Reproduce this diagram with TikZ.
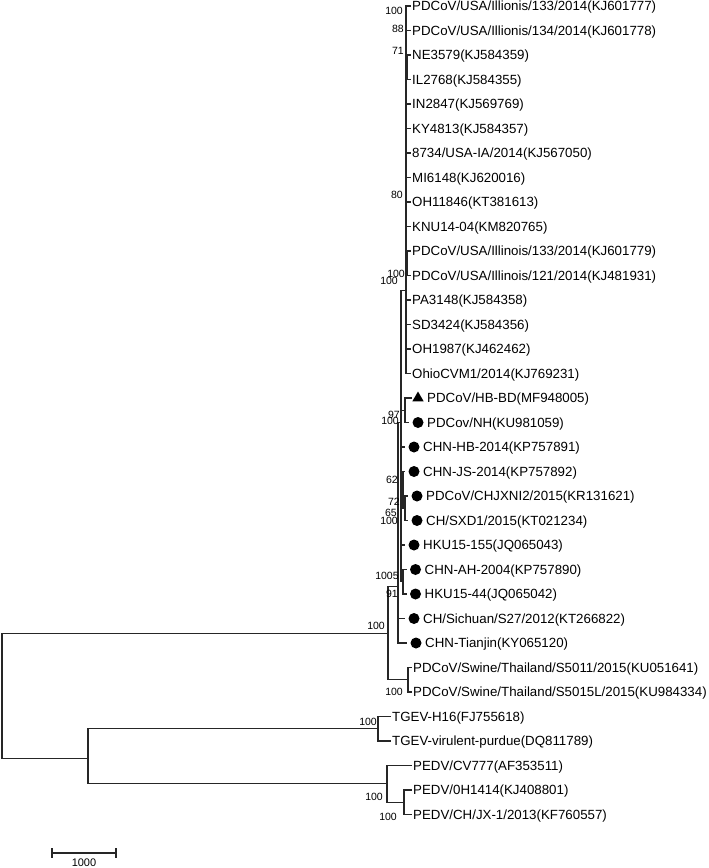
\documentclass[tikz,border=0pt]{standalone}
\usepackage{fontspec}
\setmainfont{Liberation Sans}
\usetikzlibrary{positioning,shapes.geometric}

\begin{document}
\begin{tikzpicture}[
  x=1pt, y=-24.5pt,
  branch/.style={draw=black!85, line width=1.1pt, line cap=rect},
  taxon/.style={anchor=west, inner xsep=2pt, inner ysep=0pt, text height=9.4pt, text depth=0pt,
                font=\fontsize{13.3}{15}\selectfont},
  boot/.style={anchor=east, inner sep=0pt, font=\fontsize{10.5}{12}\selectfont},
  dotmark/.style={circle, fill=black, inner sep=0pt, minimum size=11pt, outer sep=4pt},
  trimark/.style={regular polygon, regular polygon sides=3, fill=black, inner sep=0pt,
                  minimum size=13pt, outer sep=2.5pt}
]
  \path[fill=white, use as bounding box] (0,0.7551) rectangle (709,36.1837);

  % internal nodes
  \coordinate (R) at (2,29.1);
  \coordinate (A) at (388,26.6);
  \coordinate (O) at (88,31.7);
  \coordinate (T) at (378,30.5);
  \coordinate (P) at (387,32.75);
  \coordinate (PI) at (404,33.5);
  \coordinate (TH) at (408,28.5);
  \coordinate (B) at (398,24.7);
  \coordinate (C) at (401,18);
  \coordinate (US) at (406,12.6);
  \coordinate (U34) at (407.5,3.5);
  \coordinate (U1112) at (407.5,11.5);
  \coordinate (BN) at (405,17.5);
  \coordinate (JS) at (403,20.75);
  \coordinate (JX) at (405,21.5);
  \coordinate (AH) at (403,24.5);

  % taxa
  \node[taxon] (l1) at (410,1) {PDCoV/USA/Illionis/133/2014(KJ601777)};
  \node[taxon] (l2) at (410,2) {PDCoV/USA/Illionis/134/2014(KJ601778)};
  \node[taxon] (l3) at (410,3) {NE3579(KJ584359)};
  \node[taxon] (l4) at (410,4) {IL2768(KJ584355)};
  \node[taxon] (l5) at (410,5) {IN2847(KJ569769)};
  \node[taxon] (l6) at (410,6) {KY4813(KJ584357)};
  \node[taxon] (l7) at (410,7) {8734/USA-IA/2014(KJ567050)};
  \node[taxon] (l8) at (410,8) {MI6148(KJ620016)};
  \node[taxon] (l9) at (410,9) {OH11846(KT381613)};
  \node[taxon] (l10) at (410,10) {KNU14-04(KM820765)};
  \node[taxon] (l11) at (410,11) {PDCoV/USA/Illinois/133/2014(KJ601779)};
  \node[taxon] (l12) at (410,12) {PDCoV/USA/Illinois/121/2014(KJ481931)};
  \node[taxon] (l13) at (410,13) {PA3148(KJ584358)};
  \node[taxon] (l14) at (410,14) {SD3424(KJ584356)};
  \node[taxon] (l15) at (410,15) {OH1987(KJ462462)};
  \node[taxon] (l16) at (410,16) {OhioCVM1/2014(KJ769231)};
  \node[taxon] (l17) at (425,17) {PDCoV/HB-BD(MF948005)};
  \node[taxon] (l18) at (425,18) {PDCov/NH(KU981059)};
  \node[taxon] (l19) at (421,19) {CHN-HB-2014(KP757891)};
  \node[taxon] (l20) at (421,20) {CHN-JS-2014(KP757892)};
  \node[taxon] (l21) at (424,21) {PDCoV/CHJXNI2/2015(KR131621)};
  \node[taxon] (l22) at (424,22) {CH/SXD1/2015(KT021234)};
  \node[taxon] (l23) at (421,23) {HKU15-155(JQ065043)};
  \node[taxon] (l24) at (422.5,24) {CHN-AH-2004(KP757890)};
  \node[taxon] (l25) at (422.5,25) {HKU15-44(JQ065042)};
  \node[taxon] (l26) at (421,26) {CH/Sichuan/S27/2012(KT266822)};
  \node[taxon] (l27) at (423,27) {CHN-Tianjin(KY065120)};
  \node[taxon] (l28) at (411,28) {PDCoV/Swine/Thailand/S5011/2015(KU051641)};
  \node[taxon] (l29) at (411,29) {PDCoV/Swine/Thailand/S5015L/2015(KU984334)};
  \node[taxon] (l30) at (390,30) {TGEV-H16(FJ755618)};
  \node[taxon] (l31) at (390,31) {TGEV-virulent-purdue(DQ811789)};
  \node[taxon] (l32) at (411,32) {PEDV/CV777(AF353511)};
  \node[taxon] (l33) at (411,33) {PEDV/0H1414(KJ408801)};
  \node[taxon] (l34) at (411,34) {PEDV/CH/JX-1/2013(KF760557)};

  % markers
  \node[trimark] (m17) at (418,17) {};
  \foreach \r/\c in {18/418,19/414,20/414,21/417,22/417,23/414,24/415.5,25/415.5,26/414,27/416}
    \node[dotmark] (m\r) at (\c,\r) {};

  % branches
  \draw[branch] (R) |- (A) (R) |- (O);
  \draw[branch] (A) |- (B) (A) |- (TH);
  \draw[branch] (TH) |- (l28) (TH) |- (l29);
  \draw[branch] (O) |- (T) (O) |- (P);
  \draw[branch] (T) |- (l30) (T) |- (l31);
  \draw[branch] (P) |- (l32) (P) |- (PI);
  \draw[branch] (PI) |- (l33) (PI) |- (l34);
  \draw[branch] (B) |- (C) (B) |- (m26) (B) |- (m27);
  \foreach \k in {US,BN,m19,JS,m23,AH}
    \draw[branch] (C) |- (\k);
  \draw[branch] (BN) |- (m17) (BN) |- (m18);
  \draw[branch] (JS) |- (m20) (JS) |- (JX);
  \draw[branch] (JX) |- (m21) (JX) |- (m22);
  \draw[branch] (AH) |- (m24) (AH) |- (m25);
  \foreach \i in {1,2,5,6,7,8,9,10,13,14,15,16}
    \draw[branch] (US) |- (l\i);
  \draw[branch] (US) |- (U34) (U34) |- (l3) (U34) |- (l4);
  \draw[branch] (US) |- (U1112) (U1112) |- (l11) (U1112) |- (l12);

  % bootstrap values
  \node[boot] at (403,1.2) {100};
  \node[boot] at (404,1.94) {88};
  \node[boot] at (404,2.84) {71};
  \node[boot] at (403,8.71) {80};
  \node[boot] at (405,11.94) {100};
  \node[boot] at (398,12.22) {100};
  \node[boot] at (400,17.69) {97};
  \node[boot] at (399,17.94) {100};
  \node[boot] at (398,20.35) {62};
  \node[boot] at (400,21.24) {72};
  \node[boot] at (397,21.69) {65};
  \node[boot] at (398,22.02) {100};
  \node[boot] at (393,24.27) {100};
  \node[boot] at (399,24.27) {5};
  \node[boot] at (398,25.0) {91};
  \node[boot] at (385,26.31) {100};
  \node[boot] at (403,29.0) {100};
  \node[boot] at (377,30.22) {100};
  \node[boot] at (383,33.29) {100};
  \node[boot] at (397,34.1) {100};

  % scale bar
  \coordinate (sbl) at (52,35.57);
  \coordinate (sbr) at (116,35.57);
  \draw[branch] (sbl) -- (sbr);
  \draw[branch] ([yshift=4pt]sbl) -- ([yshift=-4pt]sbl);
  \draw[branch] ([yshift=4pt]sbr) -- ([yshift=-4pt]sbr);
  \node[inner sep=0pt, font=\fontsize{11}{12}\selectfont] (sblab) at (84,35.98) {1000};
\end{tikzpicture}
\end{document}
